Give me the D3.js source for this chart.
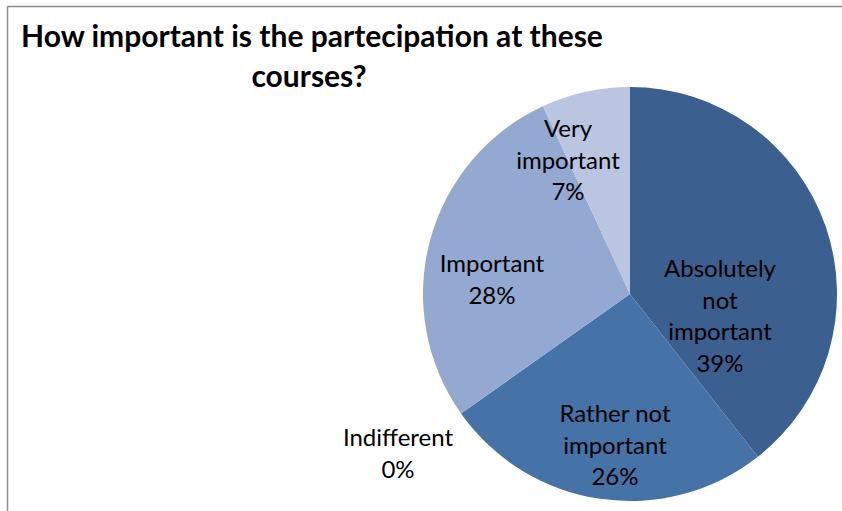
<!DOCTYPE html>
<html><head><meta charset="utf-8">
<script src="https://cdn.jsdelivr.net/npm/d3@7"></script>
<style>
html,body{margin:0;padding:0;background:#fff;}
svg{display:block;}
text{font-family:Lato,"Noto Sans",sans-serif;fill:#000;}
</style></head>
<body><svg id="chart" width="842" height="511"></svg>
<script>
const categories = ["Absolutely not important","Rather not important","Indifferent","Important","Very important"];
const labelLines = [["Absolutely","not","important"],["Rather not","important"],["Indifferent"],["Important"],["Very","important"]];
const values = [39.4, 25.8, 0, 27.9, 6.9];
const colors = ["#3B5F8E","#4572A7","#4F81BD","#94A9D1","#B9C5E1"];
// label anchor positions (layout, px)
const labelPos = [[720,268],[615,413],[398,437],[492,263],[568,128]];

const svg = d3.select("#chart");
const W = 842, H = 511;
// frame
svg.append("line").attr("x1",7.5).attr("y1",6.5).attr("x2",W).attr("y2",6.5).attr("stroke","#8c8c8c").attr("stroke-width",1.5);
svg.append("line").attr("x1",7.5).attr("y1",6.5).attr("x2",7.5).attr("y2",H).attr("stroke","#8c8c8c").attr("stroke-width",1.5);

// title
const title = svg.append("text").attr("text-anchor","middle").attr("font-weight","bold").attr("font-size",30);
title.append("tspan").attr("x",312).attr("y",47).text("How important is the partecipation at these");
title.append("tspan").attr("x",309).attr("y",87).text("courses?");

const cx = 630, cy = 294, r = 207;
const pie = d3.pie().sort(null).value(d=>d)(values);
const arc = d3.arc().innerRadius(0).outerRadius(r);
const g = svg.append("g").attr("transform",`translate(${cx},${cy})`);
g.selectAll("path").data(pie).join("path")
  .attr("d",arc).attr("fill",(d,i)=>colors[i]).attr("stroke","none");

const fmt = v => Math.round(v) + "%";
categories.forEach((c,i)=>{
  const lines = labelLines[i].concat([fmt(values[i])]);
  const t = svg.append("text").attr("text-anchor","middle").attr("font-size",24);
  lines.forEach((ln,k)=>{
    t.append("tspan").attr("x",labelPos[i][0]).attr("y",labelPos[i][1]+9+k*31.7).text(ln);
  });
});
</script></body></html>
